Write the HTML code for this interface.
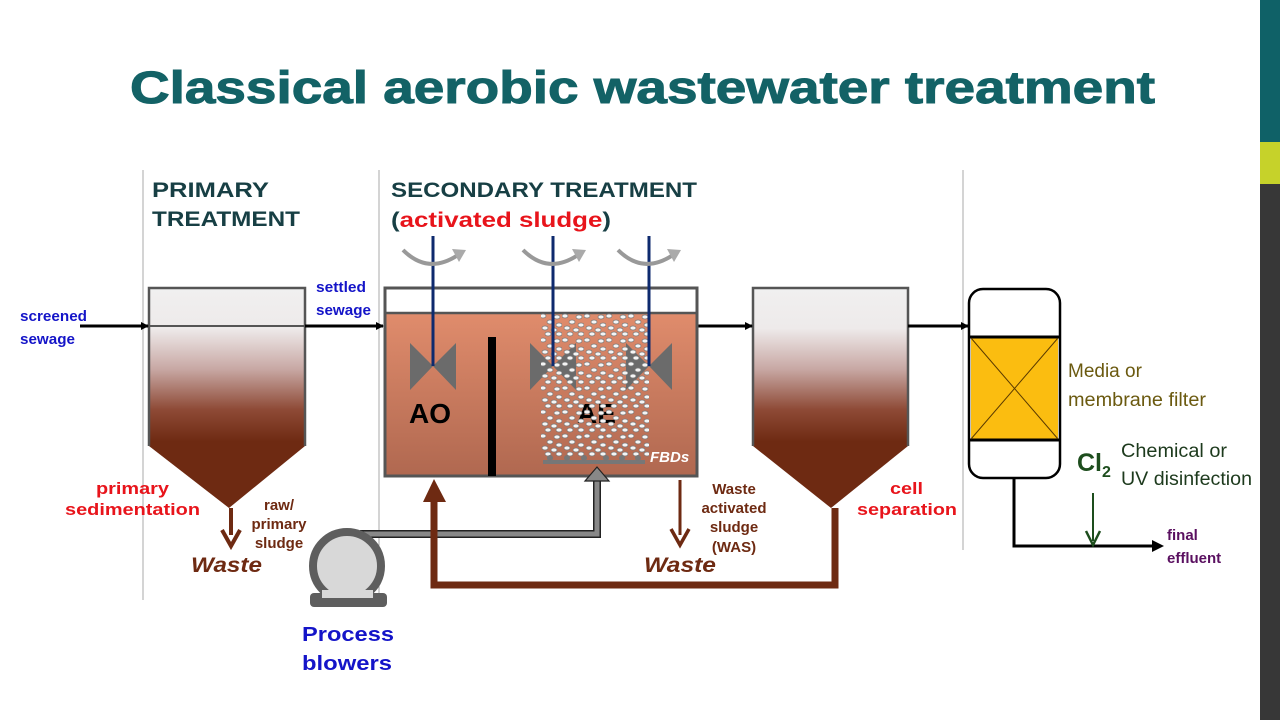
<!DOCTYPE html>
<html><head><meta charset="utf-8"><style>
body{margin:0;background:#fff}
svg{display:block;font-family:"Liberation Sans",Arial,sans-serif}
</style></head><body>
<svg width="1280" height="720" viewBox="0 0 1280 720" xmlns="http://www.w3.org/2000/svg">
<defs>
<linearGradient id="g1" gradientUnits="userSpaceOnUse" x1="0" y1="288" x2="0" y2="450">
<stop offset="0" stop-color="#f0f0f0"/><stop offset="0.25" stop-color="#eeeaea"/>
<stop offset="0.5" stop-color="#c8a8a4"/><stop offset="0.75" stop-color="#8e4a36"/>
<stop offset="0.95" stop-color="#6e2a12"/><stop offset="1" stop-color="#6e2a12"/></linearGradient>
<linearGradient id="aer" x1="0" y1="0" x2="0" y2="1">
<stop offset="0" stop-color="#e08c6c"/><stop offset="1" stop-color="#b06850"/></linearGradient>
<pattern id="bp" x="540" y="313" width="22" height="24" patternUnits="userSpaceOnUse">
<g fill="#f5f5f5" stroke="#7a7a7a" stroke-width="0.7">
<ellipse cx="3" cy="3" rx="3" ry="2"/><ellipse cx="10" cy="9" rx="3" ry="2"/><ellipse cx="17" cy="4" rx="3" ry="2"/>
<ellipse cx="5" cy="15" rx="3" ry="2"/><ellipse cx="14" cy="17" rx="3" ry="2"/><ellipse cx="19" cy="12" rx="3" ry="2"/>
<ellipse cx="8" cy="21" rx="3" ry="2"/><ellipse cx="19" cy="21" rx="3" ry="2"/></g>
</pattern>
<marker id="ab" markerWidth="8" markerHeight="8" refX="7" refY="4" orient="auto" markerUnits="userSpaceOnUse"><path d="M0,0L8,4L0,8z" fill="#000"/></marker>
</defs>
<rect x="1260" y="0" width="20" height="720" fill="#373737"/>
<rect x="1260" y="0" width="20" height="142" fill="#0f6167"/>
<rect x="1260" y="142" width="20" height="42" fill="#c6d22a"/>
<text x="130" y="103" textLength="1025" lengthAdjust="spacingAndGlyphs" font-size="45" font-weight="bold" fill="#136266" stroke="#136266" stroke-width="1">Classical aerobic wastewater treatment</text>
<g stroke="#aaa" stroke-width="1"><line x1="143" y1="170" x2="143" y2="600"/><line x1="379" y1="170" x2="379" y2="600"/><line x1="963" y1="170" x2="963" y2="550"/></g>
<g font-weight="bold" font-size="21" fill="#173f44" lengthAdjust="spacingAndGlyphs"><text x="152" y="197" textLength="117" lengthAdjust="spacingAndGlyphs">PRIMARY</text><text x="152" y="226" textLength="148" lengthAdjust="spacingAndGlyphs">TREATMENT</text><text x="391" y="197" textLength="306" lengthAdjust="spacingAndGlyphs">SECONDARY TREATMENT</text>
<text x="391" y="227" textLength="220" lengthAdjust="spacingAndGlyphs">(<tspan fill="#e8141b">activated sludge</tspan>)</text></g>
<path d="M149,288H305V446L229,508L149,446Z" fill="url(#g1)"/>
<path d="M149,446V288H305V446" fill="none" stroke="#555" stroke-width="2.5"/>
<line x1="80" y1="326" x2="148" y2="326" stroke="#000" stroke-width="3" marker-end="url(#ab)"/>
<line x1="149" y1="326" x2="305" y2="326" stroke="#555" stroke-width="2"/>
<line x1="305" y1="326" x2="383" y2="326" stroke="#000" stroke-width="3" marker-end="url(#ab)"/>
<g font-weight="bold" font-size="15" fill="#1414c8"><text x="20" y="321" textLength="67" lengthAdjust="spacingAndGlyphs">screened</text><text x="20" y="344" textLength="55" lengthAdjust="spacingAndGlyphs">sewage</text><text x="316" y="292" textLength="50" lengthAdjust="spacingAndGlyphs">settled</text><text x="316" y="315" textLength="55" lengthAdjust="spacingAndGlyphs">sewage</text></g>
<path d="M753,288H908V446L831,508L753,446Z" fill="url(#g1)"/>
<path d="M753,446V288H908V446" fill="none" stroke="#555" stroke-width="2.5"/>
<line x1="697" y1="326" x2="752" y2="326" stroke="#000" stroke-width="3" marker-end="url(#ab)"/>
<line x1="908" y1="326" x2="968" y2="326" stroke="#000" stroke-width="3" marker-end="url(#ab)"/>
<rect x="385" y="313" width="312" height="163" fill="url(#aer)"/>
<rect x="385" y="288" width="312" height="188" fill="none" stroke="#555" stroke-width="3"/>
<line x1="385" y1="313" x2="697" y2="313" stroke="#555" stroke-width="2.5"/>
<rect x="488" y="337" width="8" height="139" fill="#000"/>
<g fill="#6b6b6b"><path d="M410,343L433,366L410,390Z M456,343L433,366L456,390Z"/>
<path d="M530,343L553,366L530,390Z M576,343L553,366L576,390Z"/>
<path d="M626,343L649,366L626,390Z M672,343L649,366L672,390Z"/></g>
<text x="409" y="423" font-size="28" font-weight="bold" fill="#000">AO</text>
<text x="577" y="423" font-size="28" font-weight="bold" fill="#000">AE</text>
<rect x="541" y="313" width="108" height="144" fill="url(#bp)"/>
<g stroke="#0e2a6e" stroke-width="3"><line x1="433" y1="236" x2="433" y2="366"/><line x1="553" y1="236" x2="553" y2="366"/><line x1="649" y1="236" x2="649" y2="366"/></g>
<g fill="none" stroke="#999" stroke-width="4">
<path d="M403,250Q428,275 458,255"/><path d="M523,250Q548,275 578,255"/><path d="M618,250Q643,275 673,255"/></g>
<g fill="#aaa"><path d="M452,249L466,250L459,262Z"/><path d="M572,249L586,250L579,262Z"/><path d="M667,249L681,250L674,262Z"/></g>
<rect x="543" y="460" width="102" height="4" fill="#777"/>
<g fill="#777"><circle cx="550" cy="458" r="3"/><circle cx="567" cy="458" r="3"/><circle cx="584" cy="458" r="3"/><circle cx="606" cy="458" r="3"/><circle cx="622" cy="458" r="3"/><circle cx="638" cy="458" r="3"/></g>
<text x="650" y="462" font-size="15" font-weight="bold" font-style="italic" fill="#fff">FBDs</text>
<path d="M360,534H597V480" fill="none" stroke="#222" stroke-width="8"/>
<path d="M360,534H597V480" fill="none" stroke="#888" stroke-width="5"/>
<path d="M585,481L597,467L609,481Z" fill="#888" stroke="#222" stroke-width="1.2"/>
<rect x="310" y="593" width="77" height="14" rx="4" fill="#5e5e5e"/>
<circle cx="347" cy="566" r="34" fill="#d8d8d8" stroke="#5e5e5e" stroke-width="8"/>
<rect x="322" y="590" width="51" height="8" fill="#d8d8d8"/>
<g font-weight="bold" font-size="20" fill="#1414c8"><text x="302" y="641" textLength="92" lengthAdjust="spacingAndGlyphs">Process</text><text x="302" y="670" textLength="90" lengthAdjust="spacingAndGlyphs">blowers</text></g>
<path d="M835,508V585H434V500" fill="none" stroke="#6e2a12" stroke-width="7"/>
<path d="M423,502L434,479L446,502Z" fill="#6e2a12"/>
<line x1="231" y1="508" x2="231" y2="535" stroke="#6e2a12" stroke-width="4"/>
<path d="M222,530L231,546L240,530" fill="none" stroke="#6e2a12" stroke-width="4"/>
<line x1="680" y1="480" x2="680" y2="535" stroke="#6e2a12" stroke-width="3"/>
<path d="M671,529L680,545L689,529" fill="none" stroke="#6e2a12" stroke-width="3.5"/>
<g font-weight="bold" fill="#6e2a12">
<text x="191" y="572" font-size="21" font-style="italic" textLength="71" lengthAdjust="spacingAndGlyphs">Waste</text>
<text x="644" y="572" font-size="21" font-style="italic" textLength="72" lengthAdjust="spacingAndGlyphs">Waste</text>
<g font-size="15" text-anchor="middle"><text x="279" y="510">raw/</text><text x="279" y="529">primary</text><text x="279" y="548">sludge</text>
<text x="734" y="494">Waste</text><text x="734" y="513">activated</text><text x="734" y="532">sludge</text><text x="734" y="552">(WAS)</text></g></g>
<g font-weight="bold" font-size="17" fill="#e8141b"><text x="96" y="494" textLength="73" lengthAdjust="spacingAndGlyphs">primary</text><text x="65" y="515" textLength="135" lengthAdjust="spacingAndGlyphs">sedimentation</text><text x="890" y="494" textLength="33" lengthAdjust="spacingAndGlyphs">cell</text><text x="857" y="515" textLength="100" lengthAdjust="spacingAndGlyphs">separation</text></g>
<rect x="969" y="289" width="91" height="189" rx="14" fill="#fff" stroke="#000" stroke-width="2.5"/>
<rect x="971" y="338" width="87" height="101" fill="#fbbd10"/>
<line x1="970" y1="337" x2="1059" y2="337" stroke="#000" stroke-width="3"/><line x1="970" y1="440" x2="1059" y2="440" stroke="#000" stroke-width="3"/>
<path d="M971,338L1058,439M1058,338L971,439" stroke="#5a3a00" stroke-width="1"/>
<path d="M1014,478V546H1155" fill="none" stroke="#000" stroke-width="3"/>
<path d="M1152,540L1164,546L1152,552Z" fill="#000"/>
<line x1="1093" y1="493" x2="1093" y2="541" stroke="#1d4d1d" stroke-width="2"/>
<path d="M1086,531L1093,545L1100,531" fill="none" stroke="#1d4d1d" stroke-width="2.5"/>
<g font-size="19" fill="#6b5a10"><text x="1068" y="377">Media or</text><text x="1068" y="406" textLength="138" lengthAdjust="spacingAndGlyphs">membrane filter</text></g>
<text x="1077" y="471" font-size="25" font-weight="bold" fill="#1d4d1d">Cl<tspan font-size="16" dy="6">2</tspan></text>
<g font-size="19" fill="#1d3a1d"><text x="1121" y="457" textLength="106" lengthAdjust="spacingAndGlyphs">Chemical or</text><text x="1121" y="485" textLength="131" lengthAdjust="spacingAndGlyphs">UV disinfection</text></g>
<g font-size="15" font-weight="bold" fill="#5a1060"><text x="1167" y="540">final</text><text x="1167" y="563">effluent</text></g>
</svg>
</body></html>
